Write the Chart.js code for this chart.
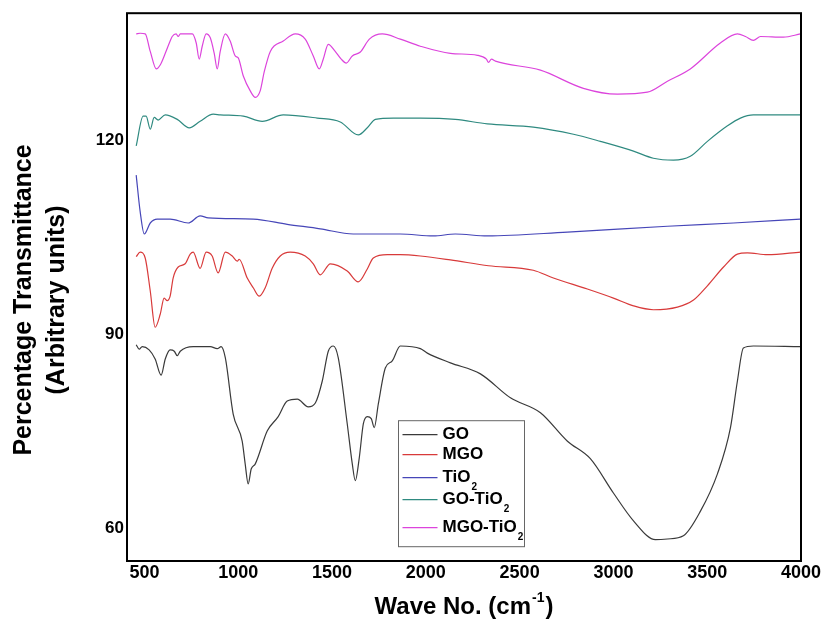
<!DOCTYPE html>
<html lang="en">
<head>
<meta charset="UTF-8">
<title>FTIR spectra - GO, MGO, TiO2, GO-TiO2, MGO-TiO2</title>
<script src="https://cdn.jsdelivr.net/npm/chart.js"></script>
<style>
  html, body { margin: 0; padding: 0; background: #fff; }
  .wrap { position: relative; width: 825px; height: 621px; }
</style>
</head>
<body>
<div class="wrap"><canvas id="ftir"></canvas></div>
<script>
// tick labels
const xTicks = [500, 1000, 1500, 2000, 2500, 3000, 3500, 4000];
const yTicks = [60, 90, 120];

const seriesNames = ['GO', 'MGO', 'TiO₂', 'GO-TiO₂', 'MGO-TiO₂'];
const seriesColors = ['#3a3a3a', '#d83a3a', '#4646b8', '#2f8a80', '#dc44dc'];

// GO
const goX = [456, 472, 488, 525, 557, 589, 611, 637, 659, 675, 691, 760, 851, 888, 909, 931, 973, 1021, 1037, 1053,
  1069, 1091, 1155, 1213, 1261, 1315, 1373, 1411, 1448, 1480, 1507, 1533, 1581, 1608, 1624, 1645, 1667, 1688, 1709, 1725,
  1747, 1784, 1821, 1864, 1971, 2008, 2131, 2291, 2451, 2611, 2755, 2877, 3000, 3107, 3224, 3288, 3373, 3464, 3555, 3624,
  3661, 3693, 3746, 3997];
const goY = [88.4, 87.7, 88.1, 87.6, 86.2, 83.7, 86.2, 87.6, 87.4, 86.7, 87.4, 88.1, 88.1, 87.8, 88.1, 86.4, 77.7, 73.5, 70.0, 66.9,
  69.2, 70.0, 75.1, 77.3, 79.7, 80.0, 78.8, 79.4, 82.8, 87.4, 88.2, 86.4, 76.2, 70.0, 67.4, 70.9, 76.2, 77.3, 77.0, 75.6,
  79.3, 84.8, 85.9, 88.2, 87.8, 87.1, 85.6, 83.9, 80.2, 77.9, 73.5, 70.8, 65.5, 61.2, 58.3, 58.4, 58.9, 62.7, 68.5, 75.6,
  82.8, 87.9, 88.2, 88.1];

// MGO
const mgoX = [456, 477, 504, 531, 557, 584, 605, 621, 637, 653, 680, 717, 744, 760, 797, 829, 861, 893, 931, 968,
  995, 1005, 1048, 1080, 1112, 1144, 1181, 1224, 1277, 1357, 1400, 1437, 1491, 1581, 1640, 1688, 1720, 1795, 1864, 1971,
  2131, 2334, 2573, 2680, 2861, 3000, 3107, 3213, 3341, 3427, 3501, 3587, 3661, 3714, 3821, 3997];
const mgoY = [102.0, 102.7, 101.8, 96.7, 91.1, 93.1, 95.6, 95.2, 95.9, 98.7, 100.4, 100.9, 102.4, 102.7, 100.2, 102.7, 102.1, 99.5, 102.7, 102.1,
  101.3, 101.6, 98.7, 97.2, 95.9, 97.2, 100.2, 102.1, 102.7, 102.1, 100.9, 99.2, 100.9, 99.8, 98.1, 100.1, 101.8, 102.3, 102.3, 102.1,
  101.5, 100.6, 99.9, 98.7, 97.0, 95.6, 94.4, 93.8, 94.2, 95.3, 97.5, 100.4, 102.4, 102.6, 102.3, 102.7];

// TiO2
const tioX = [456, 477, 499, 531, 568, 637, 733, 797, 840, 1080, 1261, 1437, 1613, 1864, 2040, 2157, 2328, 2755, 3288, 3640, 3997];
const tioY = [114.6, 109.0, 105.5, 107.2, 107.8, 107.8, 107.2, 108.3, 108.0, 107.8, 107.0, 106.3, 105.5, 105.5, 105.2, 105.5, 105.2, 105.8, 106.7, 107.2, 107.8];

// GO-TiO2
const goTioX = [456, 493, 509, 531, 552, 573, 611, 675, 739, 797, 867, 904, 1027, 1128, 1240, 1421, 1544, 1640, 1688, 1731,
  1827, 1971, 2157, 2328, 2573, 2787, 2931, 3107, 3213, 3320, 3410, 3501, 3608, 3677, 3746, 3997];
const goTioY = [119.1, 123.7, 123.7, 121.7, 123.5, 123.1, 123.9, 123.2, 121.9, 122.9, 124.0, 123.9, 123.7, 122.9, 123.9, 123.4, 122.8, 120.8, 121.9, 123.2,
  123.4, 123.4, 123.2, 122.5, 122.0, 120.9, 119.8, 118.3, 117.2, 116.9, 117.5, 119.8, 122.2, 123.4, 123.9, 123.9];

// MGO-TiO2
const mgoTioX = [456, 477, 504, 531, 563, 584, 611, 637, 648, 669, 680, 691, 755, 776, 792, 808, 829, 851, 872, 888,
  904, 931, 957, 984, 1000, 1027, 1064, 1091, 1117, 1139, 1171, 1240, 1304, 1357, 1400, 1432, 1453, 1480, 1517, 1549,
  1576, 1608, 1651, 1699, 1768, 1864, 1971, 2131, 2275, 2323, 2334, 2350, 2371, 2611, 2840, 3021, 3181, 3288, 3410, 3570,
  3661, 3704, 3746, 3784, 3906, 3997];
const mgoTioY = [136.4, 136.5, 136.4, 133.7, 131.0, 131.6, 133.4, 135.3, 136.0, 136.4, 136.0, 136.4, 136.4, 135.0, 132.5, 134.5, 136.4, 135.8, 133.4, 131.0,
  133.7, 136.4, 135.3, 133.0, 132.7, 129.9, 127.6, 126.6, 127.6, 130.6, 133.7, 135.3, 136.4, 135.6, 133.0, 131.0, 132.5, 134.8, 133.7, 132.5,
  131.9, 133.0, 133.6, 135.6, 136.4, 135.6, 134.5, 133.4, 133.1, 132.5, 132.0, 132.5, 132.2, 130.8, 128.0, 127.1, 127.4, 129.1, 131.0, 135.0,
  136.4, 136.0, 135.4, 136.0, 135.9, 136.4];

const allX = [goX, mgoX, tioX, goTioX, mgoTioX];
const allY = [goY, mgoY, tioY, goTioY, mgoTioY];

const FONT = "'Liberation Sans', Arial, sans-serif";

// frame, legend box and axis titles
const decorations = {
  id: 'decorations',
  afterDatasetsDraw(chart) {
    const { ctx, chartArea: a } = chart;
    ctx.save();
    ctx.strokeStyle = '#000';
    ctx.lineWidth = 2;
    ctx.strokeRect(a.left, a.top, a.right - a.left, a.bottom - a.top);

    // legend inside the plot
    const bx = a.left + 271.5, by = a.top + 407.5, bw = 126, bh = 126;
    ctx.fillStyle = '#fff';
    ctx.fillRect(bx, by, bw, bh);
    ctx.strokeStyle = '#666';
    ctx.lineWidth = 1;
    ctx.strokeRect(bx, by, bw, bh);
    const rowY = [14, 34, 57, 79, 107];
    seriesNames.forEach((name, i) => {
      const y = by + rowY[i];
      ctx.strokeStyle = seriesColors[i];
      ctx.lineWidth = 1.2;
      ctx.beginPath();
      ctx.moveTo(bx + 4, y);
      ctx.lineTo(bx + 39, y);
      ctx.stroke();
      const sub = name.endsWith('₂');
      const base = sub ? name.slice(0, -1) : name;
      ctx.fillStyle = '#000';
      ctx.textAlign = 'left';
      ctx.textBaseline = 'middle';
      ctx.font = 'bold 17px ' + FONT;
      ctx.fillText(base, bx + 44, y);
      if (sub) {
        const w = ctx.measureText(base).width;
        ctx.font = 'bold 10px ' + FONT;
        ctx.fillText('2', bx + 45 + w, y + 10);
      }
    });
    ctx.restore();
  },
  afterDraw(chart) {
    const { ctx, chartArea: a } = chart;
    ctx.save();
    ctx.fillStyle = '#000';
    ctx.textBaseline = 'middle';

    // x title with superscript
    const cx = (a.left + a.right) / 2;
    const ty = 607;
    const p1 = 'Wave No. (cm', sup = '-1', p2 = ')';
    ctx.font = 'bold 24px ' + FONT;
    const w1 = ctx.measureText(p1).width, w3 = ctx.measureText(p2).width;
    ctx.font = 'bold 14px ' + FONT;
    const w2 = ctx.measureText(sup).width;
    let x = cx - (w1 + w2 + w3 + 2) / 2;
    ctx.textAlign = 'left';
    ctx.font = 'bold 24px ' + FONT;
    ctx.fillText(p1, x, ty);
    ctx.font = 'bold 14px ' + FONT;
    ctx.fillText(sup, x + w1 + 1, ty - 9);
    ctx.font = 'bold 24px ' + FONT;
    ctx.fillText(p2, x + w1 + w2 + 2, ty);

    // y title, two lines
    ctx.textAlign = 'center';
    ctx.font = 'bold 25px ' + FONT;
    [['Percentage Transmittance', 24], ['(Arbitrary units)', 57]].forEach(([t, lx]) => {
      ctx.save();
      ctx.translate(lx, 300);
      ctx.rotate(-Math.PI / 2);
      ctx.fillText(t, 0, 0);
      ctx.restore();
    });
    ctx.restore();
  }
};

function makeDatasets() {
  return seriesNames.map((name, i) => ({
    label: name,
    data: allX[i].map((x, j) => ({ x: x, y: allY[i][j] })),
    borderColor: seriesColors[i],
    borderWidth: 1.2,
    pointRadius: 0,
    fill: false,
    cubicInterpolationMode: 'monotone'
  }));
}

new Chart(document.getElementById('ftir'), {
  type: 'line',
  data: { datasets: makeDatasets() },
  plugins: [decorations],
  options: {
    responsive: true,
    maintainAspectRatio: false,
    animation: false,
    layout: { padding: { left: 0, top: 12, right: 24, bottom: 0 } },
    plugins: {
      legend: { display: false },
      tooltip: { enabled: false }
    },
    scales: {
      x: {
        type: 'linear',
        min: 407,
        max: 4000,
        grid: { display: false, drawTicks: false },
        border: { display: false },
        afterBuildTicks: s => { s.ticks = xTicks.map(v => ({ value: v })); },
        afterFit: s => { s.height = 60; },
        ticks: {
          padding: 1,
          maxRotation: 0,
          autoSkip: false,
          color: '#000',
          font: { family: FONT, size: 18, weight: 'bold' },
          callback: v => String(v)
        }
      },
      y: {
        min: 55,
        max: 139.6,
        grid: { display: false, drawTicks: false },
        border: { display: false },
        afterBuildTicks: s => { s.ticks = yTicks.map(v => ({ value: v })); },
        afterFit: s => { s.width = 127; },
        ticks: {
          padding: 3,
          color: '#000',
          font: { family: FONT, size: 17, weight: 'bold' },
          callback: v => String(v)
        }
      }
    }
  }
});
</script>
</body>
</html>
